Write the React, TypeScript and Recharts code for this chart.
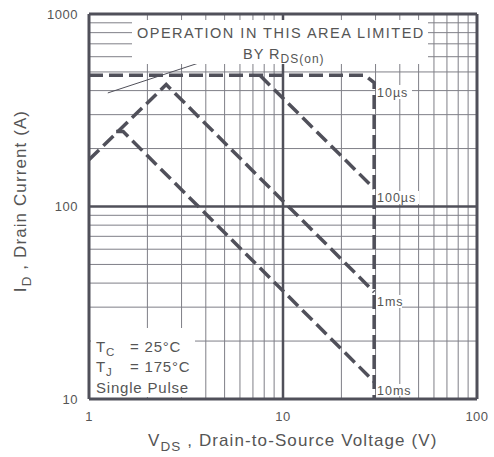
import React from 'react';
import { LineChart, Line, XAxis, YAxis, ReferenceLine } from 'recharts';

const xTicks = [1, 10, 100];
const yTicks = [10, 100, 1000];
const xMinor = [2, 3, 4, 5, 6, 7, 8, 9, 20, 30, 40, 50, 60, 70, 80, 90];
const yMinor = [20, 30, 40, 50, 60, 70, 80, 90, 200, 300, 400, 500, 600, 700, 800, 900];

// SOA boundaries (V, A)
const limit10us = [
  { v: 1, i: 480 },
  { v: 26.5, i: 480 },
  { v: 29.5, i: 440 },
  { v: 29.5, i: 10 },
];
const limit100us = [
  { v: 7.6, i: 480 },
  { v: 29.5, i: 124 },
];
const limit1ms = [
  { v: 1, i: 175 },
  { v: 2.5, i: 430 },
  { v: 29.5, i: 36 },
];
const limit10ms = [
  { v: 1.38, i: 245 },
  { v: 1.5, i: 245 },
  { v: 29.5, i: 12.3 },
];
const rdsPointer = [
  { v: 1.25, i: 389 },
  { v: 5.66, i: 642 },
];

const ink = '#50505a';
const gridInk = '#7f7f87';
const font = '"Liberation Sans", Arial, sans-serif';

const dash = { stroke: ink, strokeWidth: 3.5, strokeDasharray: '14 6', dot: false, isAnimationActive: false } as const;

export default function App() {
  return (
    <div style={{ position: 'absolute', left: 0, top: 0, width: 494, height: 457, background: '#fff' }}>
      <LineChart width={494} height={457} margin={{ top: 14, right: 17, bottom: 0, left: 0 }}>
        <XAxis
          dataKey="v"
          type="number"
          scale="log"
          domain={[1, 100]}
          ticks={xTicks}
          allowDataOverflow
          axisLine={false}
          tickLine={false}
          tickSize={0}
          tickMargin={13}
          height={58}
          tick={{ fill: '#555', fontSize: 13, fontFamily: font, letterSpacing: 0.5 }}
        />
        <YAxis
          dataKey="i"
          type="number"
          scale="log"
          domain={[10, 1000]}
          ticks={yTicks}
          allowDataOverflow
          axisLine={false}
          tickLine={false}
          tickSize={0}
          tickMargin={11}
          width={89}
          tick={{ fill: '#555', fontSize: 13, fontFamily: font, letterSpacing: 0.5 }}
        />
        {xMinor.map((x) => (
          <ReferenceLine key={'x' + x} x={x} stroke={gridInk} strokeWidth={1} />
        ))}
        {yMinor.map((y) => (
          <ReferenceLine key={'y' + y} y={y} stroke={gridInk} strokeWidth={1} />
        ))}
        <ReferenceLine x={10} stroke={ink} strokeWidth={2.5} />
        <ReferenceLine y={100} stroke={ink} strokeWidth={2.5} />
        <ReferenceLine x={1} stroke={ink} strokeWidth={3} />
        <ReferenceLine x={100} stroke={ink} strokeWidth={3} />
        <ReferenceLine y={10} stroke={ink} strokeWidth={3} />
        <ReferenceLine y={1000} stroke={ink} strokeWidth={3} />
        <Line data={rdsPointer} dataKey="i" stroke={ink} strokeWidth={1} dot={false} isAnimationActive={false} />
        <Line data={limit10us} dataKey="i" {...dash} />
        <Line data={limit100us} dataKey="i" {...dash} />
        <Line data={limit1ms} dataKey="i" {...dash} />
        <Line data={limit10ms} dataKey="i" {...dash} />
      </LineChart>
      <svg width={494} height={457} style={{ position: 'absolute', left: 0, top: 0, pointerEvents: 'none' }} fontFamily={font} fill="#555">
        <rect x={132} y={20} width={296} height={44} fill="#fff" />
        <text x={137} y={38} fontSize={14.5} letterSpacing={1.5}>OPERATION IN THIS AREA LIMITED</text>
        <text x={243} y={59} fontSize={14.5} letterSpacing={1}>
          BY R<tspan dy={4} fontSize={12}>DS(on)</tspan>
        </text>
        <rect x={91} y={328} width={104} height={69} fill="#fff" />
        <text x={96} y={352} fontSize={15} letterSpacing={0.8}>
          T<tspan dy={4} fontSize={11.5}>C</tspan><tspan x={130} dy={-4}>= 25°C</tspan>
        </text>
        <text x={96} y={372} fontSize={15} letterSpacing={0.8}>
          T<tspan dy={4} fontSize={11.5}>J</tspan><tspan x={130} dy={-4}>= 175°C</tspan>
        </text>
        <text x={96} y={393} fontSize={15} letterSpacing={0.8}>Single Pulse</text>
        <rect x={376} y={85} width={36} height={14} fill="#fff" />
        <text x={377} y={97} fontSize={12.5} letterSpacing={1}>10µs</text>
        <rect x={376} y={191} width={43} height={13} fill="#fff" />
        <text x={377} y={202} fontSize={12.5} letterSpacing={1}>100µs</text>
        <rect x={376} y={295} width={26} height={13} fill="#fff" />
        <text x={377} y={306} fontSize={12.5} letterSpacing={1}>1ms</text>
        <rect x={376} y={384} width={35} height={12} fill="#fff" />
        <text x={377} y={395} fontSize={12.5} letterSpacing={1}>10ms</text>
        <text x={148} y={446} fontSize={17} letterSpacing={1.1}>
          V<tspan dy={5} fontSize={13.5}>DS</tspan><tspan dy={-5}> , Drain-to-Source Voltage (V)</tspan>
        </text>
        <text x={26} y={201} fontSize={17} letterSpacing={1.1} textAnchor="middle" transform="rotate(-90 26 201)">
          I<tspan dy={5} fontSize={13.5}>D</tspan><tspan dy={-5}> , Drain Current (A)</tspan>
        </text>
      </svg>
    </div>
  );
}
